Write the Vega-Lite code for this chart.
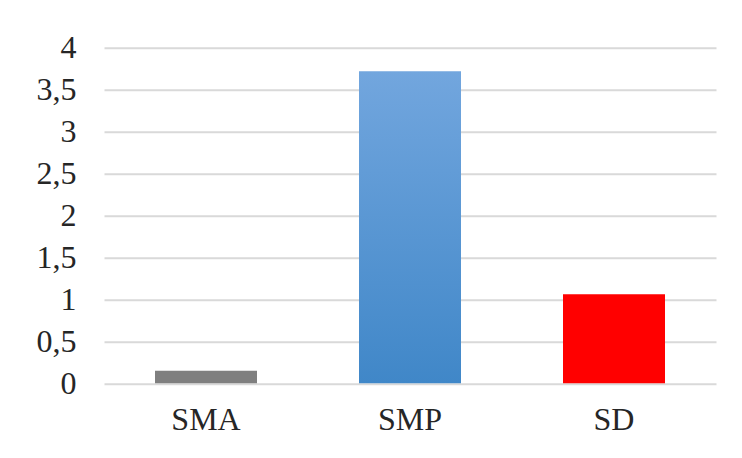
{
  "$schema": "https://vega.github.io/schema/vega-lite/v6.json",
  "autosize": "none",
  "width": 612,
  "height": 335.6,
  "padding": {"left": 104, "top": 47.7, "right": 26, "bottom": 74.7},
  "background": "white",
  "data": {"values": [
    {"cat": "SMA", "value": 0.15},
    {"cat": "SMP", "value": 3.72},
    {"cat": "SD", "value": 1.06}
  ]},
  "mark": {"type": "bar"},
  "encoding": {
    "x": {
      "field": "cat", "type": "nominal", "sort": null,
      "scale": {"paddingInner": 0.5, "paddingOuter": 0.25},
      "axis": {"title": null, "labelAngle": 0, "ticks": false, "domain": false, "labelPadding": 21,
               "labelFont": "Liberation Serif", "labelFontSize": 32, "labelColor": "#262626"}
    },
    "y": {
      "field": "value", "type": "quantitative",
      "scale": {"domain": [0, 4], "nice": false},
      "axis": {"title": null, "values": [0, 0.5, 1, 1.5, 2, 2.5, 3, 3.5, 4],
               "labelExpr": "replace(format(datum.value, '~g'), '.', ',')",
               "ticks": false, "domain": false, "labelPadding": 28,
               "labelFont": "Liberation Serif", "labelFontSize": 32, "labelColor": "#262626",
               "gridColor": "#d9d9d9", "gridWidth": 2}
    },
    "color": {
      "condition": [
        {"test": "datum.cat === 'SMA'", "value": "#7f7f7f"},
        {"test": "datum.cat === 'SD'", "value": "#ff0000"}
      ],
      "value": {"gradient": "linear", "x1": 0, "y1": 0, "x2": 0, "y2": 1,
                "stops": [{"offset": 0, "color": "#72a6de"}, {"offset": 1, "color": "#4087c8"}]}
    }
  },
  "config": {"view": {"stroke": null}}
}
